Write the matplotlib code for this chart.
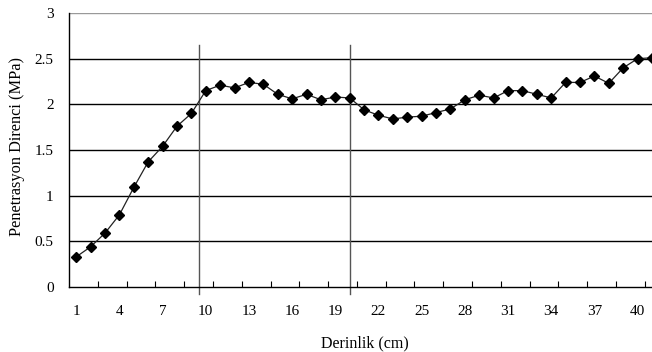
import matplotlib
matplotlib.use("Agg")
import matplotlib.pyplot as plt
import numpy as np

depth = list(range(1, 42))
resistance = [0.33, 0.44, 0.59, 0.79, 1.09, 1.37, 1.54, 1.76, 1.90, 2.15,
              2.21, 2.18, 2.24, 2.22, 2.11, 2.06, 2.11, 2.05, 2.08, 2.07,
              1.94, 1.88, 1.84, 1.86, 1.87, 1.91, 1.95, 2.05, 2.10, 2.07,
              2.15, 2.15, 2.11, 2.07, 2.24, 2.24, 2.31, 2.23, 2.40, 2.50, 2.51]
xtick_labels = [1, 4, 7, 10, 13, 16, 19, 22, 25, 28, 31, 34, 37, 40]
yticks = [0, 0.5, 1, 1.5, 2, 2.5, 3]
dividers = [9.53, 20.05]

plt.rcParams['font.family'] = ['Liberation Serif', 'DejaVu Serif']

fig = plt.figure(figsize=(6.52, 3.52), dpi=100)
W, H = 652, 352
left, right, top, bottom = 69, 652, 13, 287
ax = fig.add_axes([left / W, 1 - bottom / H, (right - left) / W, (bottom - top) / H])

ax.set_xlim(0.5, 41.0)
ax.set_ylim(0, 3)

for y in yticks[1:-1]:
    ax.axhline(y, color='black', lw=1.0, zorder=1)
ax.axhline(3, color='#999999', lw=1.0, zorder=1)

for d in dividers:
    ax.plot([d, d], [-0.08, 2.65], color='#555555', lw=1.0, clip_on=False, zorder=2)

ax.plot(depth, resistance, color='#222222', lw=0.9, marker='D', markersize=4.6,
        markerfacecolor='black', markeredgecolor='black', zorder=3, clip_on=False)

ax.spines['top'].set_visible(False)
ax.spines['right'].set_visible(False)
ax.spines['left'].set_color('black')
ax.spines['bottom'].set_color('black')
ax.spines['left'].set_linewidth(1.0)
ax.spines['bottom'].set_linewidth(1.0)

ax.set_xticks(xtick_labels)
ax.set_xticklabels([str(v) for v in xtick_labels])
ax.set_xticks(np.arange(2.5, 41, 2), minor=True)
ax.tick_params(axis='x', which='major', length=0, pad=13, labelsize=11)
ax.tick_params(axis='x', which='minor', length=4, direction='in', width=0.8)

ax.set_yticks(yticks)
ax.set_yticklabels(['0', '0.5', '1', '1.5', '2', '2.5', '3'])
ax.tick_params(axis='y', length=0, pad=11, labelsize=11)

ax.set_xlabel('Derinlik (cm)', fontsize=11.5)
ax.xaxis.set_label_coords((365 - left) / (right - left), -(335 - bottom) / (bottom - top))
ax.set_ylabel('Penetrasyon Direnci (MPa)', fontsize=11.8)
ax.yaxis.set_label_coords(-44 / (right - left), (bottom - 146) / (bottom - top))

fig.savefig('out.png', dpi=100)
